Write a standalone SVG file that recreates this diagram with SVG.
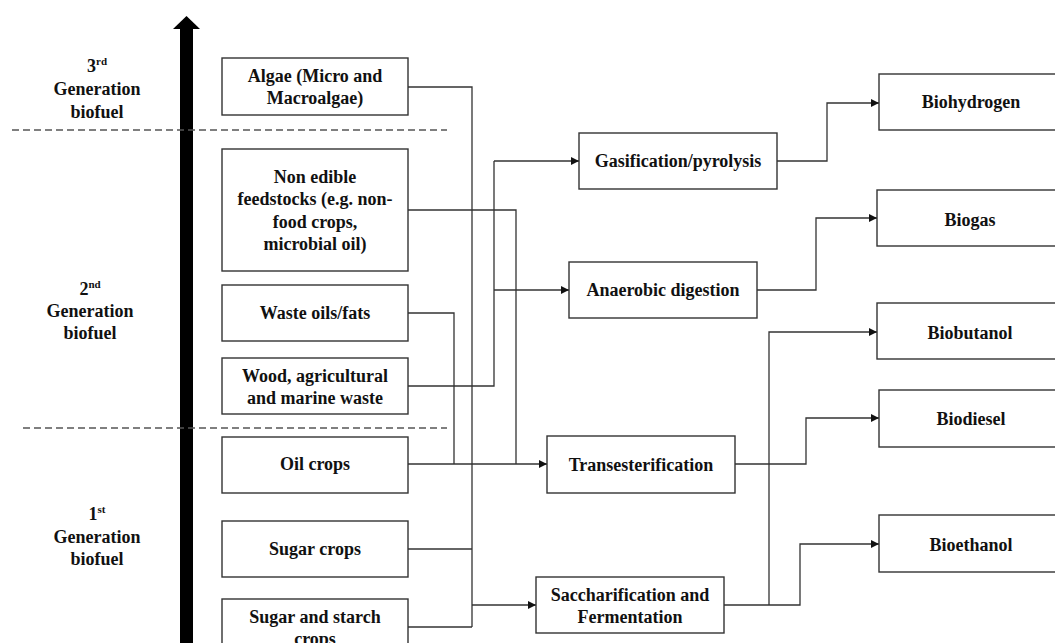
<svg xmlns="http://www.w3.org/2000/svg" width="1055" height="643" viewBox="0 0 1055 643">
<style>
  text { font-family: "Liberation Serif", "Times New Roman", serif; font-weight: bold; font-size: 18px; fill: #111; text-anchor: middle; }
  .sup { font-size: 11px; }
  .box { fill: #fff; stroke: #333; stroke-width: 1.4; }
  .conn { fill: none; stroke: #333; stroke-width: 1.3; }
  .dash { stroke: #555; stroke-width: 1.3; stroke-dasharray: 7 4; }
</style>
<defs>
  <marker id="ah" markerUnits="userSpaceOnUse" markerWidth="10" markerHeight="10" refX="8" refY="4" orient="auto">
    <path d="M0,0 L8,4 L0,8 Z" fill="#111"/>
  </marker>
</defs>
<rect width="1055" height="643" fill="#fff"/>

<g id="gen-axis">
  <rect x="180" y="28" width="13" height="620" fill="#000"/>
  <polygon points="173,29 186.5,16 200,29" fill="#000"/>
</g>
<g id="separators">
  <line class="dash" x1="12" y1="130" x2="447" y2="130"/>
  <line class="dash" x1="23" y1="428" x2="447" y2="428"/>
</g>

<g id="label-3rd">
  <text x="97" y="72">3<tspan class="sup" dy="-7">rd</tspan></text>
  <text x="97" y="95">Generation</text>
  <text x="97" y="118">biofuel</text>
</g>
<g id="label-2nd">
  <text x="90" y="295">2<tspan class="sup" dy="-7">nd</tspan></text>
  <text x="90" y="317">Generation</text>
  <text x="90" y="339">biofuel</text>
</g>
<g id="label-1st">
  <text x="97" y="520">1<tspan class="sup" dy="-7">st</tspan></text>
  <text x="97" y="543">Generation</text>
  <text x="97" y="565">biofuel</text>
</g>

<g id="connectors">
  <path class="conn" d="M408,87 H472 V627"/>
  <path class="conn" d="M408,549 H472"/>
  <path class="conn" d="M408,627 H472"/>
  <path class="conn" d="M472,605 H536" marker-end="url(#ah)"/>
  <path class="conn" d="M408,210 H516 V464"/>
  <path class="conn" d="M408,313 H454 V464"/>
  <path class="conn" d="M408,464 H547" marker-end="url(#ah)"/>
  <path class="conn" d="M408,386 H494 V161"/>
  <path class="conn" d="M494,161 H579" marker-end="url(#ah)"/>
  <path class="conn" d="M494,290 H569" marker-end="url(#ah)"/>
  <path class="conn" d="M777,161 H827 V103 H879" marker-end="url(#ah)"/>
  <path class="conn" d="M757,290 H816 V218 H877" marker-end="url(#ah)"/>
  <path class="conn" d="M735,464 H806 V418 H879" marker-end="url(#ah)"/>
  <path class="conn" d="M724,605 H800 V544 H879" marker-end="url(#ah)"/>
  <path class="conn" d="M769,605 V332 H877" marker-end="url(#ah)"/>
</g>

<g id="algae">
  <rect class="box" x="222" y="58" width="186" height="57"/>
  <text x="315" y="82">Algae (Micro  and</text>
  <text x="315" y="104">Macroalgae)</text>
</g>
<g id="non-edible">
  <rect class="box" x="222" y="149" width="186" height="122"/>
  <text x="315" y="183">Non edible</text>
  <text x="315" y="205">feedstocks (e.g. non-</text>
  <text x="315" y="228">food crops,</text>
  <text x="315" y="250">microbial  oil)</text>
</g>
<g id="waste-oils">
  <rect class="box" x="222" y="285" width="186" height="56"/>
  <text x="315" y="319">Waste oils/fats</text>
</g>
<g id="wood">
  <rect class="box" x="222" y="358" width="186" height="56"/>
  <text x="315" y="382">Wood, agricultural</text>
  <text x="315" y="404">and marine  waste</text>
</g>
<g id="oil-crops">
  <rect class="box" x="222" y="437" width="186" height="56"/>
  <text x="315" y="470">Oil  crops</text>
</g>
<g id="sugar-crops">
  <rect class="box" x="222" y="521" width="186" height="56"/>
  <text x="315" y="555">Sugar crops</text>
</g>
<g id="sugar-starch">
  <rect class="box" x="222" y="599" width="186" height="60"/>
  <text x="315" y="623">Sugar and  starch</text>
  <text x="315" y="645">crops</text>
</g>

<g id="gasification">
  <rect class="box" x="579" y="133" width="198" height="56"/>
  <text x="678" y="167">Gasification/pyrolysis</text>
</g>
<g id="anaerobic">
  <rect class="box" x="569" y="262" width="188" height="56"/>
  <text x="663" y="296">Anaerobic  digestion</text>
</g>
<g id="transesterification">
  <rect class="box" x="547" y="436" width="188" height="57"/>
  <text x="641" y="471">Transesterification</text>
</g>
<g id="saccharification">
  <rect class="box" x="536" y="577" width="188" height="56"/>
  <text x="630" y="601">Saccharification  and</text>
  <text x="630" y="623">Fermentation</text>
</g>

<g id="biohydrogen">
  <rect class="box" x="879" y="74" width="186" height="56"/>
  <text x="971" y="108">Biohydrogen</text>
</g>
<g id="biogas">
  <rect class="box" x="877" y="190" width="188" height="56"/>
  <text x="970" y="226">Biogas</text>
</g>
<g id="biobutanol">
  <rect class="box" x="877" y="303" width="188" height="56"/>
  <text x="970" y="339">Biobutanol</text>
</g>
<g id="biodiesel">
  <rect class="box" x="879" y="390" width="186" height="57"/>
  <text x="971" y="425">Biodiesel</text>
</g>
<g id="bioethanol">
  <rect class="box" x="879" y="515" width="186" height="57"/>
  <text x="971" y="551">Bioethanol</text>
</g>
</svg>
